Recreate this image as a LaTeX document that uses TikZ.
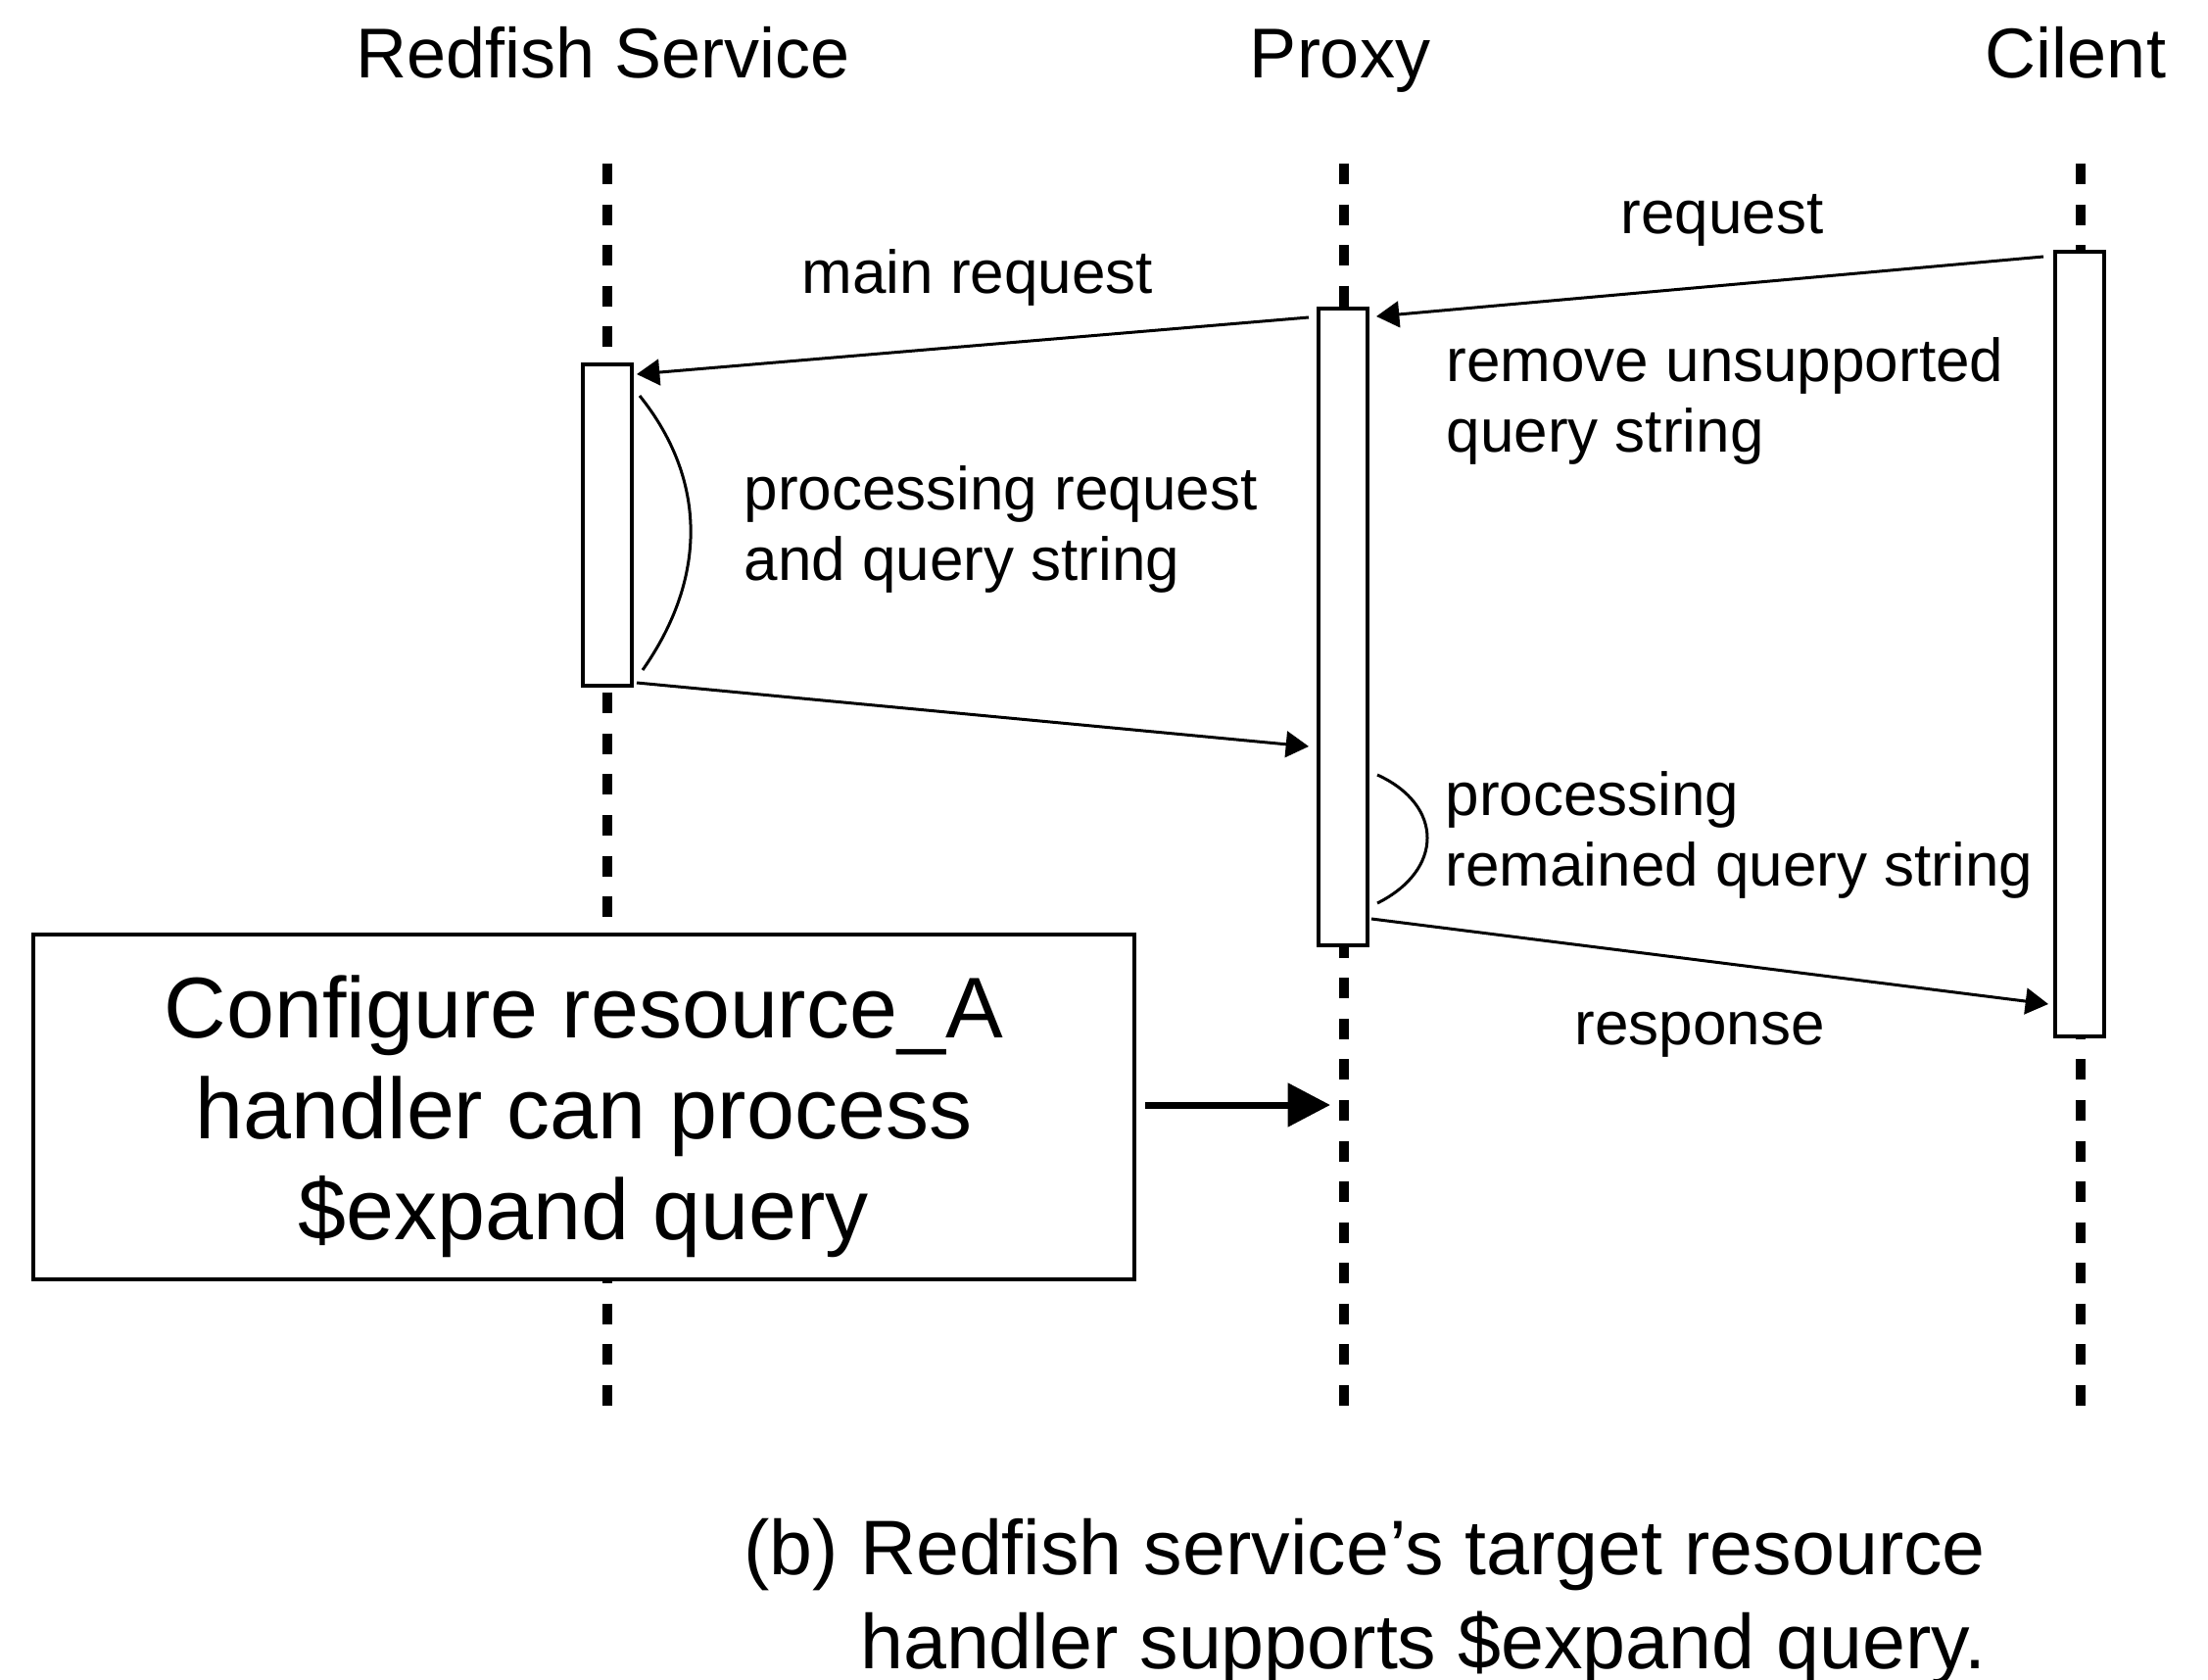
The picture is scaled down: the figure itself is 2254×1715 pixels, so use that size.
\documentclass[tikz,border=0pt]{standalone}
\usepackage{fontspec}
\setmainfont{Liberation Sans}
\usetikzlibrary{arrows.meta}
\begin{document}
\begin{tikzpicture}[x=0.3pt,y=-0.3pt,
  lifeline/.style={line width=2.9pt, dash pattern=on 6.3pt off 6.17pt},
  act/.style={draw, fill=white, line width=1pt, minimum width=15pt, inner sep=0pt},
  msg/.style={line width=0.9pt, -{Triangle[length=7pt,width=8pt]}},
  bigarrow/.style={line width=2.1pt, -{Triangle[length=13pt,width=13pt]}},
  curve/.style={line width=0.9pt},
  hdr/.style={font=\fontsize{21.6}{26}\selectfont, inner sep=0pt},
  lbl/.style={font=\fontsize{18.6}{21.6}\selectfont, inner sep=0pt, align=left},
  note/.style={draw, fill=white, line width=1.2pt, minimum width=337.2pt, minimum height=105.6pt,
    align=center, font=\fontsize{26.4}{31}\selectfont, inner sep=0pt},
  caption/.style={font=\fontsize{23.7}{28.8}\selectfont, inner sep=0pt, align=left}]
\useasboundingbox[fill=white] (0,0) rectangle (2254,1715);

% headers
\node[hdr, anchor=base] (hr) at (616,80) {Redfish Service};
\node[hdr, anchor=base] (hp) at (1368,80) {Proxy};
\node[hdr, anchor=base] (hc) at (2119,80) {Cilent};

% lifelines
\coordinate (rtop) at (620,167); \coordinate (rbot) at (620,1435);
\coordinate (ptop) at (1372,167); \coordinate (pbot) at (1372,1435);
\coordinate (ctop) at (2124,167); \coordinate (cbot) at (2124,1435);
\draw[lifeline] (rtop) -- (rbot);
\draw[lifeline] (ptop) -- (pbot);
\draw[lifeline] (ctop) -- (cbot);

% activation boxes
\node[act, minimum height=98.4pt] (ra) at (620,536) {};
\node[act, minimum height=195pt] (pa) at (1371,640) {};
\node[act, minimum height=240.3pt] (ca) at (2123,657.5) {};

% messages
\coordinate (m1s) at (2086,262); \coordinate (m1e) at (1405,323);
\draw[msg] (m1s) -- (m1e);
\node[lbl, anchor=base] (l1) at (1758,239) {request};

\coordinate (m2s) at (1336,324); \coordinate (m2e) at (650,382);
\draw[msg] (m2s) -- (m2e);
\node[lbl, anchor=base] (l2) at (998,300) {main request};

\node[lbl, anchor=base west] (l3) at (1476,462) {remove unsupported\\query string};

\coordinate (c1s) at (653,404); \coordinate (c1e) at (656,684);
\draw[curve] (c1s) .. controls (722,490) and (722,590) .. (c1e);
\node[lbl, anchor=base west] (l4) at (759,593) {processing request\\and query string};

\coordinate (m3s) at (650,697); \coordinate (m3e) at (1336,762);
\draw[msg] (m3s) -- (m3e);

\coordinate (c2s) at (1406,791); \coordinate (c2e) at (1406,922);
\draw[curve] (c2s) .. controls (1474,822) and (1474,888) .. (c2e);
\node[lbl, anchor=base west] (l5) at (1475,904) {processing\\remained query string};

\coordinate (m4s) at (1400,938); \coordinate (m4e) at (2091,1025);
\draw[msg] (m4s) -- (m4e);
\node[lbl, anchor=base] (l6) at (1735,1066) {response};

% note box
\node[note] (nb) at (596,1130) {\rule{0pt}{25pt}Configure resource\_A\\handler can process\\\$expand query};
\coordinate (nbe) at (1358,1128);
\draw[bigarrow] (nb.east |- nbe) ++(9,0) -- (nbe);

% caption
\node[caption, anchor=base west] (cap) at (759,1703) {(b) Redfish service’s target resource\\\hphantom{(b)\ }handler supports \$expand query.};
\end{tikzpicture}
\end{document}
